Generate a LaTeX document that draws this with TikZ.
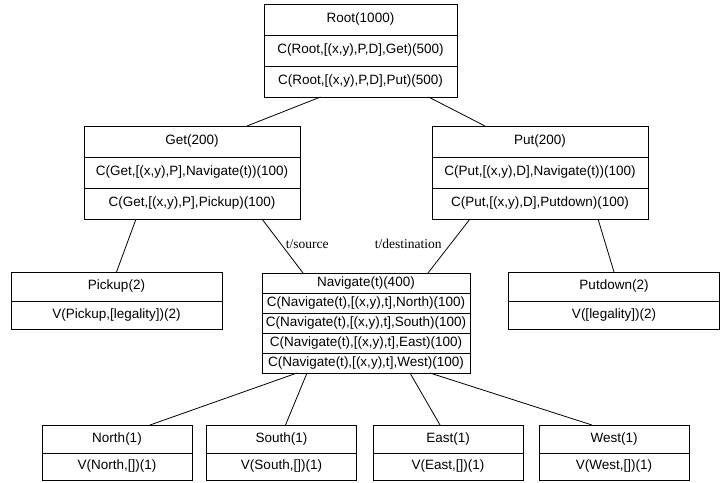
\documentclass[tikz,border=0pt]{standalone}
\usepackage{fontspec}
\setmainfont{Liberation Sans}
\newfontfamily\labelfont{Liberation Serif}
\usetikzlibrary{positioning}

\tikzset{
  cell/.style={draw, rectangle, outer sep=0pt, inner sep=1pt,
    font=\fontsize{13.5}{15}\selectfont, text height=9.5pt, text depth=2.6pt},
  edgelabel/.style={font=\labelfont\fontsize{13.5}{15}\selectfont, inner sep=2pt}
}

\begin{document}
\begin{tikzpicture}[x=1pt, y=-1pt, line width=0.8pt]

  \useasboundingbox (0,0) rectangle (725,482);

  % Root box
  \def \wRoot {193}
  \def \hRoot {31}
  \node[cell, minimum width=\wRoot pt, minimum height=\hRoot pt] (root) at (360.5, 19.5) {Root(1000)};
  \node[cell, minimum width=\wRoot pt, minimum height=\hRoot pt, below=0pt of root] (rootget) {C(Root,[(x,y),P,D],Get)(500)};
  \node[cell, minimum width=\wRoot pt, minimum height=\hRoot pt, below=0pt of rootget] (rootput) {C(Root,[(x,y),P,D],Put)(500)};

  % Get and Put boxes
  \def \wTask {216}
  \def \hTask {31}
  \node[cell, minimum width=\wTask pt, minimum height=\hTask pt] (get) at (192, 141.5) {Get(200)};
  \node[cell, minimum width=\wTask pt, minimum height=\hTask pt, below=0pt of get] (getnav) {C(Get,[(x,y),P],Navigate(t))(100)};
  \node[cell, minimum width=\wTask pt, minimum height=\hTask pt, below=0pt of getnav] (getpick) {C(Get,[(x,y),P],Pickup)(100)};

  \node[cell, minimum width=\wTask pt, minimum height=\hTask pt] (put) at (540, 141.5) {Put(200)};
  \node[cell, minimum width=\wTask pt, minimum height=\hTask pt, below=0pt of put] (putnav) {C(Put,[(x,y),D],Navigate(t))(100)};
  \node[cell, minimum width=\wTask pt, minimum height=\hTask pt, below=0pt of putnav] (putdrop) {C(Put,[(x,y),D],Putdown)(100)};

  % Pickup and Putdown
  \def \wPrim {211}
  \node[cell, minimum width=\wPrim pt, minimum height=29pt] (pickup) at (116.5, 286.5) {Pickup(2)};
  \node[cell, minimum width=\wPrim pt, minimum height=28pt, below=0pt of pickup] (pickupv) {V(Pickup,[legality])(2)};

  \node[cell, minimum width=\wPrim pt, minimum height=29pt] (putdown) at (614, 286.5) {Putdown(2)};
  \node[cell, minimum width=\wPrim pt, minimum height=28pt, below=0pt of putdown] (putdownv) {V([legality])(2)};

  % Navigate box
  \def \wNav {208}
  \def \hNav {20}
  \node[cell, minimum width=\wNav pt, minimum height=\hNav pt] (nav) at (366, 283) {Navigate(t)(400)};
  \node[cell, minimum width=\wNav pt, minimum height=\hNav pt, below=0pt of nav] (navnorth) {C(Navigate(t),[(x,y),t],North)(100)};
  \node[cell, minimum width=\wNav pt, minimum height=\hNav pt, below=0pt of navnorth] (navsouth) {C(Navigate(t),[(x,y),t],South)(100)};
  \node[cell, minimum width=\wNav pt, minimum height=\hNav pt, below=0pt of navsouth] (naveast) {C(Navigate(t),[(x,y),t],East)(100)};
  \node[cell, minimum width=\wNav pt, minimum height=\hNav pt, below=0pt of naveast] (navwest) {C(Navigate(t),[(x,y),t],West)(100)};

  % Moves
  \def \wMove {150}
  \node[cell, minimum width=\wMove pt, minimum height=28pt] (north) at (117, 439) {North(1)};
  \node[cell, minimum width=\wMove pt, minimum height=27pt, below=0pt of north] (northv) {V(North,[])(1)};

  \node[cell, minimum width=\wMove pt, minimum height=28pt] (south) at (281.5, 439) {South(1)};
  \node[cell, minimum width=\wMove pt, minimum height=27pt, below=0pt of south] (southv) {V(South,[])(1)};

  \node[cell, minimum width=\wMove pt, minimum height=28pt] (east) at (448, 439) {East(1)};
  \node[cell, minimum width=\wMove pt, minimum height=27pt, below=0pt of east] (eastv) {V(East,[])(1)};

  \node[cell, minimum width=\wMove pt, minimum height=28pt] (west) at (614, 439) {West(1)};
  \node[cell, minimum width=\wMove pt, minimum height=27pt, below=0pt of west] (westv) {V(West,[])(1)};

  % LINES
  \draw ([xshift=-40pt]rootput.south) -- ([xshift=55pt]get.north);
  \draw ([xshift=68pt]rootput.south) -- ([xshift=-55pt]put.north);

  \draw ([xshift=-56pt]getpick.south) -- (pickup.north);
  \draw ([xshift=70pt]getpick.south) -- ([xshift=-63pt]nav.north)
  node[edgelabel, midway, anchor=west, xshift=1pt, yshift=2pt] (src) {t/source};

  \draw ([xshift=-70pt]putdrop.south) -- ([xshift=62pt]nav.north)
  node[edgelabel, midway, anchor=east, xshift=-5pt, yshift=2pt] (dst) {t/destination};
  \draw ([xshift=58pt]putdrop.south) -- (putdown.north);

  % Navigate down to the moves
  \draw ([xshift=-69pt]navwest.south) -- ([xshift=33pt]north.north);
  \draw ([xshift=-59pt]navwest.south) -- ([xshift=4pt]south.north);
  \draw ([xshift=44pt]navwest.south) -- ([xshift=-8pt]east.north);
  \draw ([xshift=64pt]navwest.south) -- ([xshift=-22pt]west.north);

\end{tikzpicture}
\end{document}
